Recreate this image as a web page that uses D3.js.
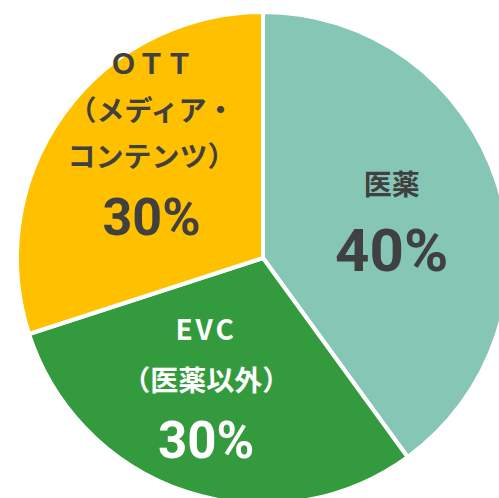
<!DOCTYPE html>
<html>
<head>
<meta charset="utf-8">
<script src="https://cdn.jsdelivr.net/npm/d3@7"></script>
<style>
  html, body { margin: 0; padding: 0; background: #fff; }
  svg { display: block; }
  text { font-family: "Noto Sans CJK JP", "Noto Sans", sans-serif; font-weight: 700; }
  text.pct { font-family: Roboto, "Noto Sans", sans-serif; font-weight: 700; }
</style>
</head>
<body>
<div id="chart"></div>
<script>
// slice data
var categories = ["医薬", "EVC", "OTT"];
var labelLines = [["医薬"], ["EVC", "（医薬以外）"], ["ＯＴＴ", "（メディア・", "コンテンツ）"]];
var shares = [40, 30, 30];

var WIDTH = 499, HEIGHT = 498;
var colors = ["#86c6b4", "#339b3e", "#ffc000"];
var textColors = ["#404040", "#ffffff", "#404040"];

// label layout, relative to the label-arc centroid
var layout = [
    { dx: 0, first: -33, lineGap: 0, pctGap: 67, pctSize: 60, nameSize: 28 },
    { dx: -15, first: -59, lineGap: 51, pctGap: 62, pctSize: 51, nameSize: 28 },
    { dx: -2, first: -116, lineGap: 46.5, pctGap: 62, pctSize: 52, nameSize: 28 }
];

var cx = 263, cy = 258, radius = 246;

var svg = d3.select("#chart").append("svg")
    .attr("width", WIDTH)
    .attr("height", HEIGHT);

var g = svg.append("g").attr("transform", "translate(" + cx + "," + cy + ")");

var pie = d3.pie().sort(null).value(function (d) { return d; });
var arcs = pie(shares);

var arc = d3.arc().innerRadius(0).outerRadius(radius);
var labelArc = d3.arc().innerRadius(radius * 0.55).outerRadius(radius * 0.55);

g.selectAll("path")
    .data(arcs)
    .enter().append("path")
    .attr("d", arc)
    .attr("fill", function (d, i) { return colors[i]; })
    .attr("stroke", "#fff")
    .attr("stroke-width", 4)
    .attr("stroke-linejoin", "round");

var labels = g.selectAll("g.label")
    .data(arcs)
    .enter().append("g")
    .attr("class", "label")
    .attr("transform", function (d, i) {
        var c = labelArc.centroid(d);
        return "translate(" + (c[0] + layout[i].dx) + "," + c[1] + ")";
    });

labels.each(function (d, i) {
    var sel = d3.select(this);
    var L = layout[i];
    var lines = labelLines[i];
    lines.forEach(function (t, k) {
        sel.append("text")
            .attr("x", 0)
            .attr("y", L.first + k * L.lineGap)
            .attr("text-anchor", "middle")
            .attr("dominant-baseline", "central")
            .attr("fill", textColors[i])
            .style("font-size", L.nameSize + "px")
            .style("letter-spacing", t === "EVC" ? "3px" : null)
            .text(t);
    });
    sel.append("text")
        .attr("class", "pct")
        .attr("x", 0)
        .attr("y", L.first + (lines.length - 1) * L.lineGap + L.pctGap)
        .attr("text-anchor", "middle")
        .attr("dominant-baseline", "central")
        .attr("fill", textColors[i])
        .style("font-size", L.pctSize + "px")
        .text(shares[i] + "%");
});
</script>
</body>
</html>
